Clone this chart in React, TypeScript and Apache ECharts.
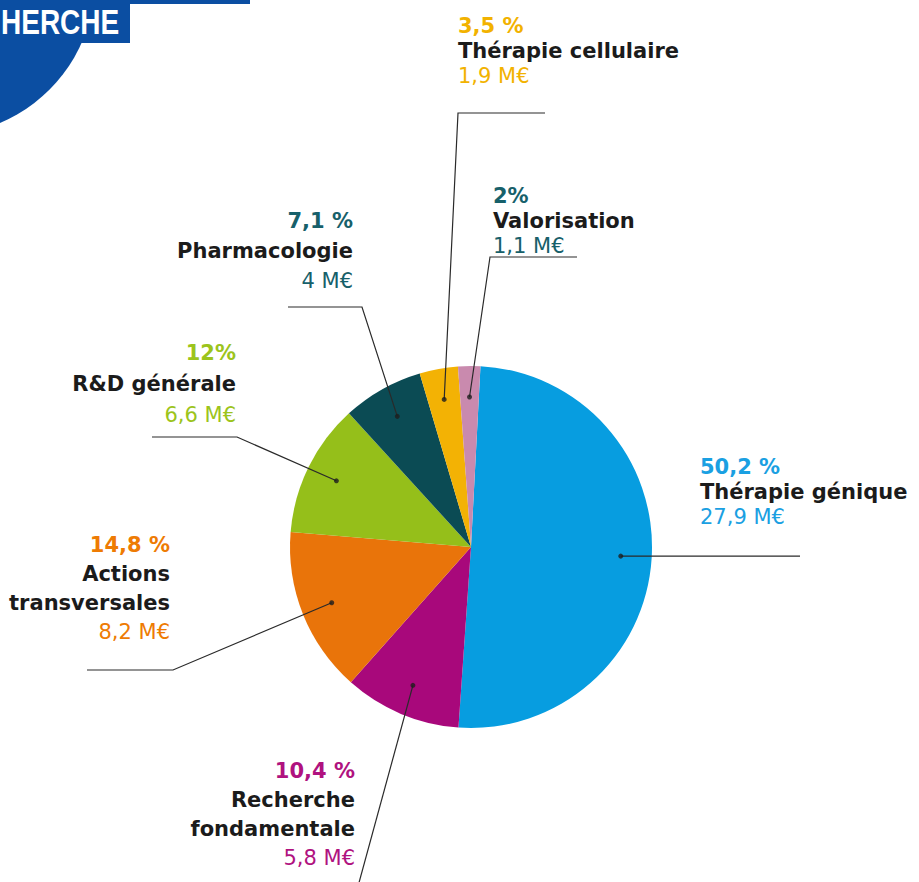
import React, { useEffect, useRef } from "react";
import * as echarts from "echarts";

const categories = [
  "Thérapie génique",
  "Recherche fondamentale",
  "Actions transversales",
  "R&D générale",
  "Pharmacologie",
  "Thérapie cellulaire",
  "Valorisation",
];
const nameLines = [
  ["Thérapie génique"],
  ["Recherche", "fondamentale"],
  ["Actions", "transversales"],
  ["R&D générale"],
  ["Pharmacologie"],
  ["Thérapie cellulaire"],
  ["Valorisation"],
];
const valuesMEuro = [27.9, 5.8, 8.2, 6.6, 4, 1.9, 1.1];
const percentLabels = ["50,2 %", "10,4 %", "14,8 %", "12%", "7,1 %", "3,5 %", "2%"];
const sliceColors = ["#079de0", "#a8087b", "#e9740a", "#95bf1a", "#0b4b54", "#f3b204", "#c98aae"];
const textColors = ["#1aa0e2", "#b0127f", "#ee7b03", "#9cc41c", "#17606a", "#f2b200", "#17606a"];
const bannerText = "HERCHE";

const FONT = "DejaVu Sans";
const CENTER: [number, number] = [471, 547];
const R = 181;
const R_DOT = 150;
const START = 87;

// label layout (positions only)
const labelLayouts: { x: number; y: number; align: string; lh: number; line: (s: number[]) => number[][] }[] = [
  { x: 700, y: 454, align: "left", lh: 25, line: (s) => [s, [800, s[1]]] },
  { x: 355, y: 756, align: "right", lh: 29, line: (s) => [s, [357, 890]] },
  { x: 170, y: 530, align: "right", lh: 29, line: (s) => [s, [173, 670], [87, 670]] },
  { x: 236, y: 337, align: "right", lh: 31, line: (s) => [s, [237, 437], [152, 437]] },
  { x: 353, y: 206, align: "right", lh: 30, line: (s) => [s, [362, 307], [288, 307]] },
  { x: 458, y: 13, align: "left", lh: 25, line: (s) => [s, [458, 113], [545, 113]] },
  { x: 493, y: 183, align: "left", lh: 25, line: (s) => [s, [490, 257], [577, 257]] },
];

export default function App() {
  const ref = useRef<HTMLDivElement>(null);
  useEffect(() => {
    if (!ref.current) return;
    const chart = echarts.init(ref.current, null, { renderer: "svg" });
    const total = valuesMEuro.reduce((a, b) => a + b, 0);
    let cum = 0;
    const mids = valuesMEuro.map((v) => {
      const m = ((cum + v / 2) / total) * 360;
      cum += v;
      return m;
    });

    const rich: any = {};
    valuesMEuro.forEach((_, i) => {
      const lay = labelLayouts[i];
      rich["p" + i] = { fontFamily: FONT, fontWeight: "bold", fontSize: 21, color: textColors[i], lineHeight: lay.lh, align: lay.align };
      rich["n" + i] = { fontFamily: FONT, fontWeight: "bold", fontSize: 21, color: "#1b1b1b", lineHeight: lay.lh, align: lay.align };
      rich["v" + i] = { fontFamily: FONT, fontWeight: "normal", fontSize: 21, color: textColors[i], lineHeight: lay.lh, align: lay.align };
    });

    const valueText = (v: number) => String(v).replace(".", ",") + " M€";

    chart.setOption({
      animation: false,
      backgroundColor: "#ffffff",
      polar: { center: CENTER, radius: R_DOT },
      angleAxis: { type: "value", min: 0, max: 360, startAngle: START, clockwise: true, show: false },
      radiusAxis: { type: "value", min: 0, max: 1, show: false },
      graphic: [
        { type: "circle", shape: { cx: -60, cy: -20, r: 155 }, style: { fill: "#0b4ea2" }, z: 1 },
        { type: "rect", shape: { x: 0, y: 0, width: 130, height: 43 }, style: { fill: "#0b4ea2" }, z: 1 },
        { type: "rect", shape: { x: 0, y: 0, width: 250, height: 4 }, style: { fill: "#0b4ea2" }, z: 1 },
        {
          type: "text",
          x: 1,
          y: 22,
          scaleY: 1.25,
          z: 2,
          style: {
            text: bannerText,
            fill: "#ffffff",
            font: "bold 28px 'Liberation Sans'",
            textVerticalAlign: "middle",
            verticalAlign: "middle",
          },
        },
      ],
      series: [
        {
          type: "pie",
          center: CENTER,
          radius: [0, R],
          startAngle: START,
          clockwise: true,
          silent: true,
          z: 2,
          label: { show: false },
          labelLine: { show: false },
          itemStyle: { borderWidth: 0 },
          data: categories.map((c, i) => ({ name: c, value: valuesMEuro[i], itemStyle: { color: sliceColors[i] } })),
        },
        {
          type: "pie",
          center: CENTER,
          radius: [0, R_DOT],
          startAngle: START,
          clockwise: true,
          silent: true,
          z: 5,
          avoidLabelOverlap: false,
          itemStyle: { color: "rgba(0,0,0,0)" },
          label: {
            show: true,
            position: "outside",
            formatter: (p: any) => {
              const i = p.dataIndex;
              return [
                `{p${i}|${percentLabels[i]}}`,
                ...nameLines[i].map((l) => `{n${i}|${l}}`),
                `{v${i}|${valueText(valuesMEuro[i])}}`,
              ].join("\n");
            },
            rich,
          },
          labelLine: { show: true, length: 10, length2: 10, lineStyle: { color: "#2a2a2a", width: 1.2 } },
          labelLayout: (params: any) => {
            const lay = labelLayouts[params.dataIndex];
            const s = params.labelLinePoints ? params.labelLinePoints[0] : [0, 0];
            return {
              x: lay.x,
              y: lay.y,
              align: lay.align,
              verticalAlign: "top",
              labelLinePoints: lay.line([s[0], s[1]]),
            };
          },
          data: categories.map((c, i) => ({ name: c, value: valuesMEuro[i] })),
        },
        {
          type: "scatter",
          coordinateSystem: "polar",
          symbolSize: 5,
          silent: true,
          z: 10,
          itemStyle: { color: "#1e1e1e" },
          data: mids.map((m) => [1, m]),
        },
      ],
    });
    return () => chart.dispose();
  }, []);
  return <div ref={ref} style={{ position: "absolute", left: 0, top: 0, width: 919, height: 882 }} />;
}
